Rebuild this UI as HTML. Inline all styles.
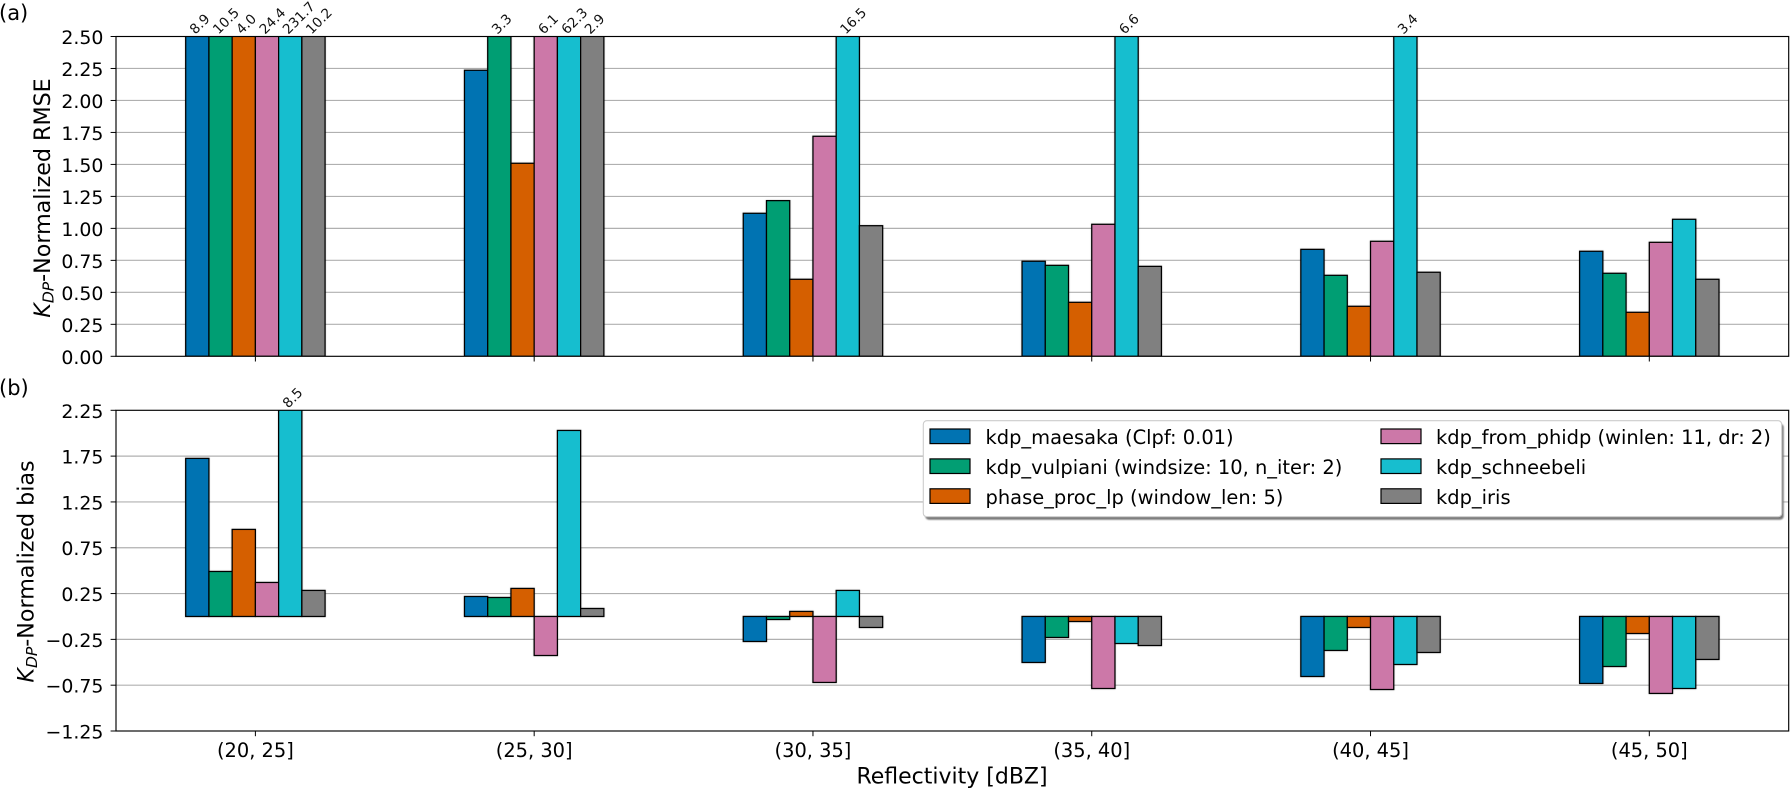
<!DOCTYPE html>
<html lang="en">
<head>
<meta charset="utf-8">
<title>KDP retrieval error by reflectivity</title>
<style>
html,body{margin:0;padding:0;background:#fff;width:1790px;height:789px;overflow:hidden}
svg{display:block;font-family:"DejaVu Sans","Liberation Sans",sans-serif;fill:#000}
</style>
</head>
<body>
<svg id="chart" xmlns="http://www.w3.org/2000/svg" width="1790" height="789" viewBox="0 0 1790 789">
  <defs>
    <clipPath id="clip-rmse"><rect x="116" y="36.5" width="1672.7" height="319.8"/></clipPath>
    <clipPath id="clip-bias"><rect x="116" y="410.3" width="1672.7" height="320.7"/></clipPath>
    <filter id="halo" x="-5%" y="-5%" width="110%" height="110%"><feDropShadow dx="0" dy="0" stdDeviation="0.8" flood-color="#000" flood-opacity="0.28"/></filter>
    <filter id="legend-shadow" x="-2%" y="-5%" width="104%" height="115%"><feGaussianBlur stdDeviation="0.8"/></filter>
  </defs>
  <rect width="1790" height="789" fill="#fff"/>
  <text x="-1" y="20" font-size="21">(a)</text>
  <text x="-1" y="395" font-size="21">(b)</text>
  <g id="plots"></g>
  <text transform="translate(50,198) rotate(-90)" text-anchor="middle" font-size="22.2"><tspan font-style="italic">K</tspan><tspan font-style="italic" font-size="15.5" dy="3.3">DP</tspan><tspan dy="-3.3">-Normalized RMSE</tspan></text>
  <text transform="translate(33.5,571.5) rotate(-90)" text-anchor="middle" font-size="22.2"><tspan font-style="italic">K</tspan><tspan font-style="italic" font-size="15.5" dy="3.3">DP</tspan><tspan dy="-3.3">-Normalized bias</tspan></text>
  <text x="952" y="783.3" text-anchor="middle" font-size="22">Reflectivity [dBZ]</text>
  <g id="legend">
    <rect x="925.3" y="423.7" width="858.4" height="96" rx="3.5" fill="#777" filter="url(#legend-shadow)"/>
    <rect x="923.3" y="420.7" width="858.4" height="96" rx="3.5" fill="#fff" stroke="#ccc" stroke-width="1.1"/>
  </g>
</svg>
<script>
const categories = ['(20, 25]', '(25, 30]', '(30, 35]', '(35, 40]', '(40, 45]', '(45, 50]'];
const methods = ['kdp_maesaka', 'kdp_vulpiani', 'phase_proc_lp', 'kdp_from_phidp', 'kdp_schneebeli', 'kdp_iris'];
const legendLabels = ['kdp_maesaka (Clpf: 0.01)', 'kdp_vulpiani (windsize: 10, n_iter: 2)', 'phase_proc_lp (window_len: 5)', 'kdp_from_phidp (winlen: 11, dr: 2)', 'kdp_schneebeli', 'kdp_iris'];
const seriesColors = ['#0173b2', '#029e73', '#d55e00', '#cc78a8', '#17becf', '#808080'];

const rmseMaesaka = [8.9, 2.236, 1.118, 0.743, 0.836, 0.821];
const rmseVulpiani = [10.5, 3.3, 1.217, 0.711, 0.633, 0.649];
const rmsePhaseProc = [4.0, 1.509, 0.602, 0.422, 0.391, 0.344];
const rmseFromPhidp = [24.4, 6.1, 1.72, 1.032, 0.899, 0.891];
const rmseSchneebeli = [231.7, 62.3, 16.5, 6.6, 3.4, 1.071];
const rmseIris = [10.2, 2.9, 1.021, 0.703, 0.657, 0.602];

const biasMaesaka = [1.725, 0.218, -0.273, -0.502, -0.655, -0.731];
const biasVulpiani = [0.491, 0.207, -0.033, -0.229, -0.371, -0.546];
const biasPhaseProc = [0.95, 0.306, 0.055, -0.055, -0.12, -0.186];
const biasFromPhidp = [0.371, -0.426, -0.72, -0.786, -0.797, -0.84];
const biasSchneebeli = [8.5, 2.03, 0.284, -0.295, -0.524, -0.786];
const biasIris = [0.284, 0.087, -0.12, -0.317, -0.393, -0.469];

const rmseTicks = [0, 0.25, 0.5, 0.75, 1, 1.25, 1.5, 1.75, 2, 2.25, 2.5];
const biasTicks = [-1.25, -0.75, -0.25, 0.25, 0.75, 1.25, 1.75, 2.25];

const NS = 'http://www.w3.org/2000/svg';
const plotsRoot = document.getElementById('plots');
const legendRoot = document.getElementById('legend');

function make(tag, parent, attrs, content) {
  const el = document.createElementNS(NS, tag);
  for (const k in attrs) el.setAttribute(k, attrs[k]);
  if (content !== undefined) el.textContent = content;
  parent.appendChild(el);
  return el;
}

const plotLeft = 116;
const plotRight = 1788.7;
const barWidthFrac = 0.5;
function xScale(pos) {
  return plotLeft + (pos + 0.5) / categories.length * (plotRight - plotLeft);
}

function drawPanel(key, top, bottom, ymin, ymax, ticks, series, clipId, showXLabels) {
  const yScale = function (v) { return bottom - (v - ymin) / (ymax - ymin) * (bottom - top); };
  const group = make('g', plotsRoot, {});
  
  

  ticks.forEach(function (t) {
    const y = yScale(t);
    if (t > ymin && t < ymax) {
      const grid = make('line', group, { x1: plotLeft, x2: plotRight, y1: y, y2: y, stroke: '#b0b0b0', 'stroke-width': 1.15 });
      
      
    }
    const tick = make('line', group, { x1: plotLeft - 5.4, x2: plotLeft, y1: y, y2: y, stroke: '#000', 'stroke-width': 1 });
    
    
    const label = make('text', group, { x: 103.4, y: y + 7.5, 'text-anchor': 'end', 'font-size': 18.9 }, t.toFixed(2).replace('-', '\u2212'));
    
    
  });

  const barsGroup = make('g', group, { 'clip-path': 'url(#' + clipId + ')' });
  
  
  const bars = make('g', barsGroup, { filter: 'url(#halo)' });
  
  

  const unit = xScale(1) - xScale(0);
  const barW = unit * barWidthFrac / series.length;
  series.forEach(function (values, s) {
    values.forEach(function (v, c) {
      const left = xScale(c) + (s - series.length / 2) * barW;
      const y0 = yScale(0);
      const y1 = yScale(Math.min(v, ymax + 0.02));
      const bar = make('rect', bars, {
        x: left, y: Math.min(y0, y1), width: barW, height: Math.abs(y1 - y0),
        fill: seriesColors[s], stroke: '#000', 'stroke-width': 1.25
      });
      
      
      if (v > ymax) {
        const cx = left + barW / 2;
        const note = make('text', group, {
          transform: 'translate(' + (cx - 2) + ',' + (top - 1.6) + ') rotate(-45)',
          'font-size': 13.6, fill: '#111'
        }, v.toFixed(1));
        
        
      }
    });
  });

  categories.forEach(function (cat, c) {
    const x = xScale(c);
    const tick = make('line', group, { x1: x, x2: x, y1: bottom, y2: bottom + 5.2, stroke: '#000', 'stroke-width': 1 });
    
    
    if (showXLabels) {
      const label = make('text', group, { x: x, y: 756.8, 'text-anchor': 'middle', 'font-size': 19.4 }, cat);
      
      
    }
  });

  const frame = make('rect', group, { x: plotLeft, y: top, width: plotRight - plotLeft, height: bottom - top, fill: 'none', stroke: '#000', 'stroke-width': 1.15 });
  
  
}

const rmseSeries = [rmseMaesaka, rmseVulpiani, rmsePhaseProc, rmseFromPhidp, rmseSchneebeli, rmseIris];
const biasSeries = [biasMaesaka, biasVulpiani, biasPhaseProc, biasFromPhidp, biasSchneebeli, biasIris];
drawPanel('rmse', 36.5, 356.3, 0, 2.5, rmseTicks, rmseSeries, 'clip-rmse', false);
drawPanel('bias', 410.3, 731, -1.25, 2.25, biasTicks, biasSeries, 'clip-bias', true);

legendLabels.forEach(function (text, i) {
  const col = i < 3 ? 0 : 1;
  const row = i % 3;
  const rowTop = 429 + row * 29.9;
  const swatch = make('rect', legendRoot, {
    x: col === 0 ? 930 : 1381, y: rowTop, width: 40, height: 14.6,
    fill: seriesColors[i], stroke: '#000', 'stroke-width': 1.2
  });
  
  
  const label = make('text', legendRoot, { x: col === 0 ? 985.5 : 1436, y: rowTop + 15, 'font-size': 19.45 }, text);
  
  
});
</script>
</body>
</html>
